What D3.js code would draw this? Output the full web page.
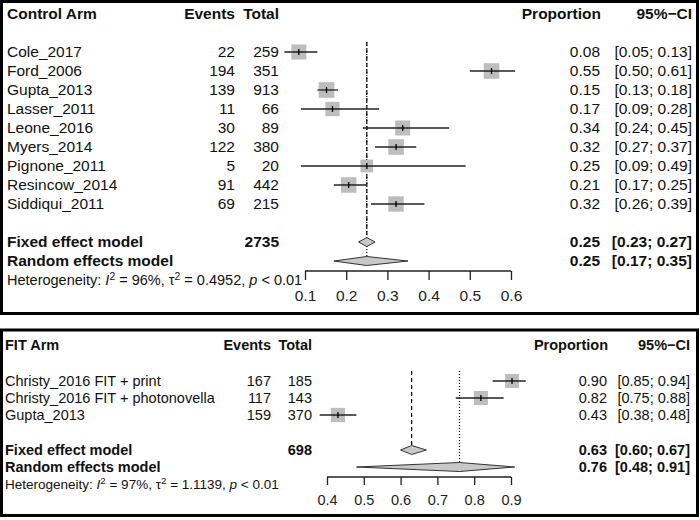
<!DOCTYPE html>
<html>
<head>
<meta charset="utf-8">
<script src="https://cdn.jsdelivr.net/npm/d3@7"></script>
<style>
  html, body { margin: 0; padding: 0; background: #fff; }
  svg { display: block; font-family: "Liberation Sans", Arial, sans-serif; }
</style>
</head>
<body>
<svg id="chart" width="700" height="520"></svg>
<script>
// ---------------- DATA ----------------
const controlStudies = ["Cole_2017", "Ford_2006", "Gupta_2013", "Lasser_2011", "Leone_2016", "Myers_2014", "Pignone_2011", "Resincow_2014", "Siddiqui_2011"];
const controlEvents  = [22, 194, 139, 11, 30, 122, 5, 91, 69];
const controlTotals  = [259, 351, 913, 66, 89, 380, 20, 442, 215];
const controlProp    = [0.08, 0.55, 0.15, 0.17, 0.34, 0.32, 0.25, 0.21, 0.32];
const controlLower   = [0.05, 0.50, 0.13, 0.09, 0.24, 0.27, 0.09, 0.17, 0.26];
const controlUpper   = [0.13, 0.61, 0.18, 0.28, 0.45, 0.37, 0.49, 0.25, 0.39];
const controlWeights = [11.1, 12.0, 12.1, 10.1, 11.1, 12.0, 8.0, 11.9, 11.8];
const controlFixed   = { total: 2735, est: 0.25, lower: 0.23, upper: 0.27 };
const controlRandom  = { est: 0.25, lower: 0.17, upper: 0.35 };
const controlHet     = { i2: "96%", tau2: "0.4952", p: "< 0.01" };
const controlTicks   = [0.1, 0.2, 0.3, 0.4, 0.5, 0.6];

const fitStudies = ["Christy_2016 FIT + print", "Christy_2016 FIT + photonovella", "Gupta_2013"];
const fitEvents  = [167, 117, 159];
const fitTotals  = [185, 143, 370];
const fitProp    = [0.90, 0.82, 0.43];
const fitLower   = [0.85, 0.75, 0.38];
const fitUpper   = [0.94, 0.88, 0.48];
const fitWeights = [32.9, 33.3, 34.4];
const fitFixed   = { total: 698, est: 0.63, lower: 0.60, upper: 0.67 };
const fitRandom  = { est: 0.76, lower: 0.48, upper: 0.91 };
const fitHet     = { i2: "97%", tau2: "1.1139", p: "< 0.01" };
const fitTicks   = [0.4, 0.5, 0.6, 0.7, 0.8, 0.9];

// ---------------- DRAW ----------------
const svg = d3.select("#chart");
const f2 = d3.format(".2f");

function drawPanel(cfg) {
  const g = svg.append("g");
  const x = d3.scaleLinear().domain(cfg.domain).range(cfg.range);
  const n = cfg.studies.length;
  const rowY = i => cfg.firstY + i * cfg.step;
  const fs = cfg.fontSize;

  // frame
  g.append("rect")
    .attr("x", cfg.frame[0]).attr("y", cfg.frame[1])
    .attr("width", cfg.frame[2]).attr("height", cfg.frame[3])
    .attr("fill", "none").attr("stroke", "#000").attr("stroke-width", 3);

  const txt = (s, xx, yy, anchor, bold, size) =>
    g.append("text").attr("x", xx).attr("y", yy).attr("dy", "0.35em")
      .attr("text-anchor", anchor || "start")
      .attr("font-size", size || fs)
      .attr("font-weight", bold ? "bold" : "normal")
      .attr("fill", "#111")
      .text(s);

  // headers
  txt(cfg.title, cfg.labelX, cfg.headerY, "start", true);
  txt("Events", cfg.eventsX, cfg.headerY, "end", true);
  txt("Total", cfg.totalX, cfg.headerY, "end", true);
  txt("Proportion", cfg.propX + 1, cfg.headerY, "end", true);
  txt("95%\u2212CI", cfg.ciX, cfg.headerY, "end", true);

  // summary reference lines
  g.append("line")
    .attr("x1", x(cfg.fixed.est)).attr("x2", x(cfg.fixed.est))
    .attr("y1", rowY(0) - 10).attr("y2", cfg.fixedY - 5)
    .attr("stroke", "#000").attr("stroke-width", 1.2)
    .attr("stroke-dasharray", "4,3");
  g.append("line")
    .attr("x1", x(cfg.random.est)).attr("x2", x(cfg.random.est))
    .attr("y1", rowY(0) - 10).attr("y2", cfg.randomY - 4)
    .attr("stroke", "#000").attr("stroke-width", 1.2)
    .attr("stroke-dasharray", "1,2");

  const boxScale = d3.scaleSqrt().domain([0, cfg.refWeight]).range([0, cfg.refBox]);

  // study rows
  cfg.studies.forEach((s, i) => {
    const y = rowY(i);
    txt(s, cfg.labelX, y, "start");
    txt(cfg.events[i], cfg.eventsX, y, "end");
    txt(cfg.totals[i], cfg.totalX, y, "end");
    txt(f2(cfg.prop[i]), cfg.propX, y, "end");
    txt("[" + f2(cfg.lower[i]) + "; " + f2(cfg.upper[i]) + "]", cfg.ciX, y, "end");

    const p = cfg.events[i] / cfg.totals[i];
    const b = boxScale(cfg.weights[i]);
    g.append("rect")
      .attr("x", x(p) - b / 2).attr("y", y - b / 2)
      .attr("width", b).attr("height", b)
      .attr("fill", "#bdbdbd");
    g.append("line")
      .attr("x1", x(cfg.lower[i])).attr("x2", x(cfg.upper[i]))
      .attr("y1", y).attr("y2", y)
      .attr("stroke", "#222").attr("stroke-width", 1.3);
    g.append("line")
      .attr("x1", x(p)).attr("x2", x(p))
      .attr("y1", y - 3).attr("y2", y + 3)
      .attr("stroke", "#000").attr("stroke-width", 1.3);
  });

  // summary rows
  const diamond = (m, y, h) => {
    const pts = [[x(m.lower), y], [x(m.est), y - h], [x(m.upper), y], [x(m.est), y + h]];
    g.append("polygon")
      .attr("points", pts.map(d => d.join(",")).join(" "))
      .attr("fill", "#c8c8c8").attr("stroke", "#333").attr("stroke-width", 1);
  };
  txt("Fixed effect model", cfg.labelX, cfg.fixedY, "start", true);
  txt(cfg.fixed.total, cfg.totalX, cfg.fixedY, "end", true);
  txt(f2(cfg.fixed.est), cfg.propX, cfg.fixedY, "end", true);
  txt("[" + f2(cfg.fixed.lower) + "; " + f2(cfg.fixed.upper) + "]", cfg.ciX, cfg.fixedY, "end", true);
  diamond(cfg.fixed, cfg.fixedY, 4.5);

  txt("Random effects model", cfg.labelX, cfg.randomY, "start", true);
  txt(f2(cfg.random.est), cfg.propX, cfg.randomY, "end", true);
  txt("[" + f2(cfg.random.lower) + "; " + f2(cfg.random.upper) + "]", cfg.ciX, cfg.randomY, "end", true);
  diamond(cfg.random, cfg.randomY, 4.5);

  // heterogeneity
  const ht = g.append("text").attr("x", cfg.labelX).attr("y", cfg.hetY).attr("dy", "0.35em")
    .attr("font-size", cfg.hetSize).attr("fill", "#111");
  ht.append("tspan").text("Heterogeneity: ");
  ht.append("tspan").attr("font-style", "italic").text("I");
  ht.append("tspan").attr("font-size", cfg.hetSize * 0.72).attr("dy", "-0.45em").text("2");
  ht.append("tspan").attr("dy", "0.32em").text(" = " + cfg.het.i2 + ", \u03c4");
  ht.append("tspan").attr("font-size", cfg.hetSize * 0.72).attr("dy", "-0.45em").text("2");
  ht.append("tspan").attr("dy", "0.32em").text(" = " + cfg.het.tau2 + ", ");
  ht.append("tspan").attr("font-style", "italic").text("p");
  ht.append("tspan").text(" " + cfg.het.p);

  // axis
  const axis = d3.axisBottom(x).tickValues(cfg.ticks).tickSize(cfg.tickLen).tickSizeOuter(0)
    .tickFormat(d3.format(".1f")).tickPadding(10);
  const ag = g.append("g").attr("transform", `translate(0,${cfg.axisY})`).call(axis);
  ag.select(".domain").attr("stroke", "#222").attr("stroke-width", 1.3)
    .attr("d", `M${x(cfg.ticks[0])},0H${x(cfg.ticks[cfg.ticks.length - 1])}`);
  ag.selectAll(".tick line").attr("stroke", "#222").attr("stroke-width", 1.3);
  ag.selectAll(".tick text").attr("font-size", fs).attr("fill", "#222")
    .attr("font-family", "'Liberation Sans', Arial, sans-serif");
}

drawPanel({
  title: "Control Arm",
  studies: controlStudies, events: controlEvents, totals: controlTotals,
  prop: controlProp, lower: controlLower, upper: controlUpper, weights: controlWeights,
  fixed: controlFixed, random: controlRandom, het: controlHet, ticks: controlTicks,
  domain: [0.1, 0.6], range: [305, 511],
  frame: [1.5, 1.5, 696, 312],
  fontSize: 15.5, hetSize: 14.5,
  labelX: 7, eventsX: 235, totalX: 279, propX: 600, ciX: 692,
  headerY: 14, firstY: 52, step: 19,
  fixedY: 242, randomY: 261, hetY: 280, axisY: 271, tickLen: 9,
  refWeight: 11.1, refBox: 15
});

drawPanel({
  title: "FIT Arm",
  studies: fitStudies, events: fitEvents, totals: fitTotals,
  prop: fitProp, lower: fitLower, upper: fitUpper, weights: fitWeights,
  fixed: fitFixed, random: fitRandom, het: fitHet, ticks: fitTicks,
  domain: [0.4, 0.9], range: [327, 511],
  frame: [1.5, 330, 696, 185.5],
  fontSize: 14.5, hetSize: 13.5,
  labelX: 5, eventsX: 271, totalX: 312, propX: 607, ciX: 690,
  headerY: 345, firstY: 381, step: 17,
  fixedY: 450, randomY: 467, hetY: 484, axisY: 477, tickLen: 8,
  refWeight: 33.3, refBox: 14
});
</script>
</body>
</html>
